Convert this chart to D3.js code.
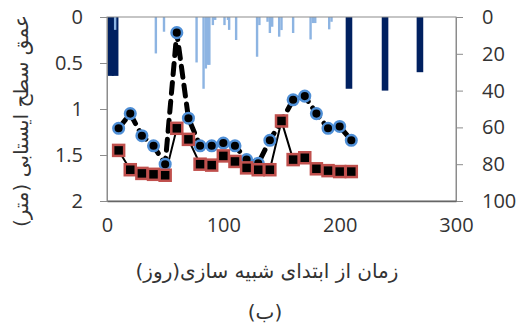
<!DOCTYPE html>
<html>
<head>
<meta charset="utf-8">
<script src="https://cdn.jsdelivr.net/npm/d3@7"></script>
<style>
  body { margin: 0; background: #fff; }
  text { font-family: "Open Sans", sans-serif; fill: #333; }
  .fa { font-family: "DejaVu Sans", sans-serif; }
</style>
</head>
<body>
<div class="chart"></div>
<script>
// days for both depth series
const days = [10,20,30,40,50,60,70,80,90,100,110,120,130,140,150,160,170,180,190,200,210];
// water table depth (m), observed-like series (blue circles, dashed)
const depthA = [1.21,1.05,1.29,1.40,1.60,0.17,1.10,1.40,1.40,1.37,1.40,1.55,1.59,1.34,1.13,0.90,0.86,1.05,1.21,1.19,1.34];
// simulated-like series (red squares, solid)
const depthB = [1.45,1.66,1.70,1.71,1.72,1.21,1.33,1.60,1.61,1.51,1.57,1.64,1.66,1.66,1.13,1.55,1.53,1.65,1.67,1.68,1.68];

// rain (light bars, right axis)
const rainDays = [7,42,49,77,83,85,87,88,91,93,101,104,105,111,129,131,138,140,142,148,150,160,175,177,179,191,193];
const rainVals = [7,19.8,8,24.7,39,28,26,26,4.4,1.6,4.4,1.6,7,12.5,21.6,4.4,2.6,8.7,5.3,10.7,7.1,8.7,12.2,3.3,3.3,6.7,2.6];
// irrigation (dark bars, right axis)
const irrDays = [3,7,208,239,269];
const irrVals = [32,32,39,40,30];

const xTicks = [0,100,200,300];
const yTicks = [0,0.5,1,1.5,2];
const y2Ticks = [0,20,40,60,80,100];

const width = 524, height = 331;
const svg = d3.select('.chart').append('svg')
  .attr('width', width)
  .attr('height', height);

const mLeft = 107, mRight = 456, mTop = 17, mBottom = 201;

const x = d3.scaleLinear().domain([0,300]).range([mLeft, mRight]);
const y = d3.scaleLinear().domain([0,2]).range([mTop, mBottom]);
const y2 = d3.scaleLinear().domain([0,100]).range([mTop, mBottom]);

// bars hanging from the top
svg.selectAll('.irr')
  .data(irrDays)
  .enter()
  .append('rect')
  .attr('class', 'irr')
  .attr('x', (d) => x(d) - 3.3)
  .attr('y', mTop)
  .attr('width', 6.6)
  .attr('height', (d, i) => y2(irrVals[i]) - mTop)
  .attr('fill', '#002060');

svg.selectAll('.rain')
  .data(rainDays)
  .enter()
  .append('rect')
  .attr('class', 'rain')
  .attr('x', (d) => x(d) - 1.2)
  .attr('y', mTop)
  .attr('width', 2.4)
  .attr('height', (d, i) => y2(rainVals[i]) - mTop)
  .attr('fill', '#8db4e2');

// frame
svg.append('rect')
  .attr('x', mLeft).attr('y', mTop)
  .attr('width', mRight - mLeft).attr('height', mBottom - mTop)
  .attr('fill', 'none')
  .attr('stroke', '#8c8c8c')
  .attr('stroke-width', 1);

// left axis
const yAxis = svg.append('g')
  .attr('transform', `translate(${mLeft},0)`)
  .call(d3.axisLeft(y).tickValues(yTicks).tickSize(7).tickPadding(17).tickFormat(d3.format('')));
// right axis
const y2Axis = svg.append('g')
  .attr('transform', `translate(${mRight},0)`)
  .call(d3.axisRight(y2).tickValues(y2Ticks).tickSize(7).tickPadding(19));
// bottom axis
const xAxis = svg.append('g')
  .attr('transform', `translate(0,${mBottom})`)
  .call(d3.axisBottom(x).tickValues(xTicks).tickSize(0).tickPadding(17));

[yAxis, y2Axis, xAxis].forEach(g => {
  g.select('.domain').attr('stroke', '#8c8c8c');
  g.selectAll('.tick line').attr('stroke', '#8c8c8c');
  g.selectAll('.tick text').attr('font-size', 20).attr('font-family', 'Open Sans, sans-serif').attr('fill', '#333');
});
xAxis.select('.domain').attr('stroke', '#666').attr('stroke-width', 1.5);

// series A: dashed
const lineA = d3.line().x((d, i) => x(days[i])).y((d) => y(d));
svg.append('path')
  .datum(depthA)
  .attr('d', lineA)
  .attr('fill', 'none')
  .attr('stroke', '#000')
  .attr('stroke-width', 5)
  .attr('stroke-dasharray', '11,8')
  .attr('stroke-linecap', 'round');

// series B: solid
svg.append('path')
  .datum(depthB)
  .attr('d', lineA)
  .attr('fill', 'none')
  .attr('stroke', '#000')
  .attr('stroke-width', 2);

svg.selectAll('.ptA')
  .data(depthA)
  .enter()
  .append('circle')
  .attr('class', 'ptA')
  .attr('cx', (d, i) => x(days[i]))
  .attr('cy', (d) => y(d))
  .attr('r', 5.3)
  .attr('fill', '#000')
  .attr('stroke', '#4f8fd6')
  .attr('stroke-width', 2.5);

svg.selectAll('.ptB')
  .data(depthB)
  .enter()
  .append('rect')
  .attr('class', 'ptB')
  .attr('x', (d, i) => x(days[i]) - 5.5)
  .attr('y', (d) => y(d) - 5.5)
  .attr('width', 11)
  .attr('height', 11)
  .attr('fill', '#000')
  .attr('stroke', '#c0504d')
  .attr('stroke-width', 2.5);

// titles
svg.append('text')
  .attr('class', 'fa')
  .attr('x', 267).attr('y', 272)
  .attr('text-anchor', 'middle')
  .attr('dominant-baseline', 'middle')
  .attr('font-size', 20)
  .text('زمان از ابتدای شبیه سازی(روز)');

svg.append('text')
  .attr('class', 'fa')
  .attr('x', 265).attr('y', 313)
  .attr('text-anchor', 'middle')
  .attr('dominant-baseline', 'middle')
  .attr('font-size', 20)
  .text('(ب)');

svg.append('text')
  .attr('class', 'fa')
  .attr('transform', 'translate(22,121) rotate(-90)')
  .attr('text-anchor', 'middle')
  .attr('dominant-baseline', 'middle')
  .attr('font-size', 20)
  .text('عمق سطح ایستابی (متر)');
</script>
</body>
</html>
